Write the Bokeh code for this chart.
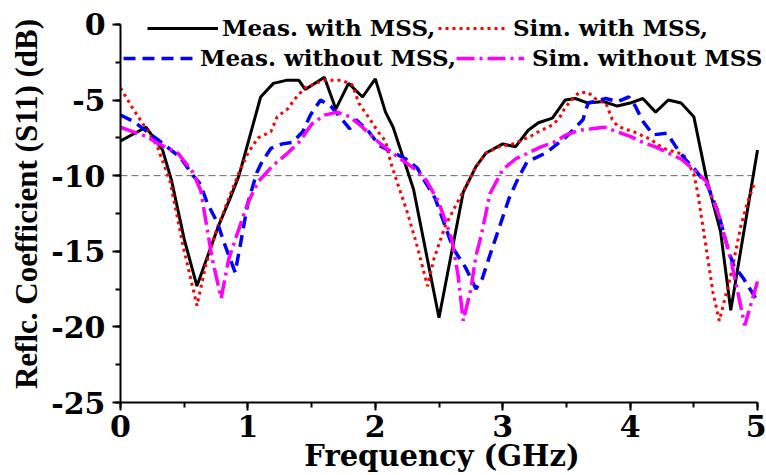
from bokeh.plotting import figure
from bokeh.models import (Range1d, SingleIntervalTicker, Legend, LegendItem,
                          PrintfTickFormatter)
from bokeh.embed import file_html
from bokeh.resources import INLINE

# ---------------- data ----------------
meas_with_f = [0, 0.2, 0.33, 0.4, 0.5, 0.6, 0.77, 0.86, 0.93, 1.1, 1.2, 1.3, 1.4, 1.45,
               1.6, 1.69, 1.79, 1.9, 2.0, 2.08, 2.14, 2.3, 2.5, 2.69, 2.79, 2.87, 3.0,
               3.1, 3.2, 3.28, 3.39, 3.49, 3.57, 3.67, 3.79, 3.9, 4.0, 4.1, 4.2, 4.3,
               4.4, 4.5, 4.6, 4.71, 4.79, 5.0]
meas_with_db = [-7.7, -6.8, -8.3, -10.3, -14.2, -17.3, -13.3, -11.5, -10.0, -4.8, -3.9,
                -3.7, -3.7, -4.3, -3.5, -5.6, -3.9, -4.8, -3.6, -5.8, -6.8, -10.9, -19.4,
                -11.1, -9.4, -8.5, -7.9, -8.1, -7.0, -6.5, -6.2, -5.0, -4.9, -5.2, -5.1,
                -5.4, -5.2, -4.9, -5.8, -5.0, -5.2, -6.1, -10.2, -13.7, -18.9, -8.3]

sim_with_f = [0, 0.1, 0.21, 0.29, 0.39, 0.49, 0.6, 0.67, 0.75, 0.85, 0.93, 1.0, 1.08,
              1.18, 1.23, 1.31, 1.39, 1.45, 1.59, 1.74, 1.82, 1.87, 1.96, 2.03, 2.08,
              2.12, 2.17, 2.25, 2.32, 2.41, 2.46, 2.55, 2.63, 2.71, 2.79, 2.87, 2.97,
              3.08, 3.22, 3.3, 3.36, 3.41, 3.45, 3.49, 3.55, 3.6, 3.67, 3.74, 3.81,
              3.86, 3.9, 3.95, 4.03, 4.16, 4.26, 4.42, 4.5, 4.53, 4.57, 4.61, 4.65,
              4.7, 4.79, 4.87, 4.92, 4.98]
sim_with_db = [-4.2, -5.6, -7.0, -8.1, -10.4, -14.6, -18.6, -15.9, -13.7, -11.5, -9.8,
               -8.5, -7.5, -7.1, -6.1, -5.6, -4.7, -4.2, -3.7, -3.7, -4.0, -5.2, -6.3,
               -7.2, -7.7, -9.1, -10.4, -12.4, -14.4, -17.3, -15.5, -13.3, -12.0, -10.7,
               -9.4, -8.5, -8.1, -7.9, -7.4, -7.0, -6.8, -6.5, -6.1, -5.5, -4.9, -4.5,
               -4.5, -5.0, -5.2, -6.3, -6.7, -6.9, -7.1, -7.6, -8.2, -8.6, -9.9, -11.1,
               -13.3, -15.5, -17.7, -19.6, -16.6, -13.3, -11.8, -10.4]

meas_without_f = [0, 0.1, 0.21, 0.29, 0.47, 0.57, 0.63, 0.68, 0.76, 0.82, 0.9, 0.94, 1.0,
                  1.07, 1.11, 1.18, 1.27, 1.35, 1.43, 1.49, 1.57, 1.65, 1.74, 1.8, 1.85,
                  1.95, 2.03, 2.24, 2.33, 2.39, 2.47, 2.53, 2.61, 2.71, 2.79, 2.84, 2.89,
                  2.97, 3.05, 3.12, 3.19, 3.34, 3.49, 3.63, 3.67, 3.81, 3.9, 3.99, 4.04,
                  4.1, 4.18, 4.29, 4.36, 4.43, 4.51, 4.61, 4.69, 4.76, 4.81, 4.89, 5.0]
meas_without_db = [-6.0, -6.4, -7.1, -7.6, -8.8, -10.0, -10.6, -11.8, -13.1, -14.6, -16.4,
                   -14.6, -11.8, -9.8, -9.1, -8.2, -7.9, -7.8, -7.1, -6.0, -5.0, -5.4,
                   -6.3, -6.9, -6.3, -7.1, -8.0, -8.9, -9.5, -10.4, -11.5, -12.9, -14.8,
                   -16.1, -17.5, -16.8, -15.5, -13.5, -11.5, -10.2, -9.1, -8.5, -7.5,
                   -6.3, -5.2, -4.9, -5.1, -4.8, -5.4, -6.4, -7.3, -7.2, -8.1, -8.9,
                   -9.6, -10.7, -12.4, -14.6, -15.9, -16.8, -18.3]

sim_without_f = [0, 0.2, 0.3, 0.45, 0.57, 0.63, 0.67, 0.72, 0.79, 0.85, 0.93, 1.0, 1.08,
                 1.2, 1.3, 1.4, 1.5, 1.6, 1.7, 1.8, 1.9, 2.0, 2.1, 2.2, 2.3, 2.4, 2.5,
                 2.6, 2.65, 2.69, 2.75, 2.79, 2.83, 2.9, 3.0, 3.1, 3.2, 3.3, 3.4, 3.5,
                 3.6, 3.7, 3.8, 3.9, 4.0, 4.1, 4.2, 4.3, 4.4, 4.5, 4.6, 4.7, 4.8, 4.9,
                 5.0]
sim_without_db = [-6.8, -7.4, -7.9, -8.5, -9.8, -11.0, -13.0, -15.5, -18.1, -15.5, -13.5,
                  -11.8, -10.4, -9.3, -8.6, -7.8, -6.6, -6.0, -5.8, -6.1, -6.8, -7.6,
                  -8.3, -8.9, -9.5, -10.3, -11.8, -14.2, -16.6, -19.6, -17.5, -15.3,
                  -14.0, -11.2, -9.6, -8.9, -8.5, -8.1, -7.8, -7.3, -7.0, -6.9, -6.8,
                  -7.1, -7.4, -7.8, -8.1, -8.5, -8.9, -9.6, -10.4, -12.7, -15.9, -19.9,
                  -17.0]

THRESHOLD_DB = -10
X_BOUNDS = (0, 5)       # axis extent
Y_BOUNDS = (-25, 0)
X_TITLE = "Frequency (GHz)"
Y_TITLE = "Reflc. Coefficient (S11) (dB)"

FONT = "DejaVu Serif"
YFONT = "Liberation Serif"

# a little head-room above 0 dB / right of 5 GHz so the legend is not clipped;
# the axes themselves stop at the bounds above
x_range = Range1d(X_BOUNDS[0], X_BOUNDS[1] + 0.047)
y_range = Range1d(Y_BOUNDS[0], Y_BOUNDS[1] + 1.25)

# ---------------- figure ----------------
p = figure(width=766, height=475, output_backend="svg", toolbar_location=None,
           x_range=x_range, y_range=y_range,
           min_border_left=120, min_border_right=3, min_border_top=5,
           min_border_bottom=70)
p.outline_line_color = None
p.xgrid.visible = False
p.ygrid.visible = False
p.background_fill_color = "white"
p.border_fill_color = "white"

p.xaxis.ticker = SingleIntervalTicker(interval=1, num_minor_ticks=2)
p.yaxis.ticker = SingleIntervalTicker(interval=5, num_minor_ticks=2)
p.xaxis.bounds = X_BOUNDS
p.yaxis.bounds = Y_BOUNDS

for ax in (p.xaxis[0], p.yaxis[0]):
    ax.formatter = PrintfTickFormatter(format="%d")
    ax.axis_line_width = 2
    ax.axis_line_color = "black"
    ax.major_tick_line_width = 2
    ax.minor_tick_line_width = 2
    ax.major_tick_out = 8
    ax.major_tick_in = 0
    ax.minor_tick_out = 5
    ax.minor_tick_in = 0
    ax.major_label_text_font = FONT
    ax.major_label_text_font_style = "bold"
    ax.major_label_text_font_size = "30px"
    ax.major_label_text_color = "black"
    ax.axis_label_text_font_style = "bold"
    ax.axis_label_text_color = "black"

p.xaxis.axis_label = X_TITLE
p.xaxis.axis_label_text_font = FONT
p.xaxis.axis_label_text_font_size = "29px"
p.xaxis.major_label_standoff = 4
p.xaxis.axis_label_standoff = -1

p.yaxis.axis_label = Y_TITLE
p.yaxis.axis_label_text_font = YFONT
p.yaxis.axis_label_text_font_size = "31px"
p.yaxis.major_label_standoff = 7
p.yaxis.axis_label_standoff = 4

# -10 dB reference line across the axis extent
p.line(x=list(X_BOUNDS), y=[THRESHOLD_DB, THRESHOLD_DB], line_color="#666666",
       line_dash="7 4", line_width=1)

r_mw = p.line(meas_with_f, meas_with_db, line_color="black", line_width=3)
r_sw = p.line(sim_with_f, sim_with_db, line_color="#ff0000", line_width=3,
              line_dash="3 4")
r_mo = p.line(meas_without_f, meas_without_db, line_color="#0000ff", line_width=3.5,
              line_dash="12 7")
r_so = p.line(sim_without_f, sim_without_db, line_color="#ff00ff", line_width=3.5,
              line_dash="18 5 3 5")

def add_legend(label, renderer, loc, glyph_width, standoff):
    lg = Legend(items=[LegendItem(label=label, renderers=[renderer])],
                location=loc, padding=0, margin=0, spacing=0,
                glyph_width=glyph_width, glyph_height=20, label_height=20,
                label_standoff=standoff, border_line_alpha=0,
                background_fill_alpha=0, label_text_font=FONT,
                label_text_font_style="bold", label_text_font_size="23px",
                label_text_color="black")
    p.add_layout(lg)

add_legend("Meas. with MSS,", r_mw, (27, 361), 71, 4)
add_legend("Sim. with MSS,", r_sw, (318, 361), 68, 7)
add_legend("Meas. without MSS,", r_mo, (3, 331), 70, 7)
add_legend("Sim. without MSS", r_so, (336, 331), 68, 8)

open("out.html", "w").write(file_html(p, INLINE))
